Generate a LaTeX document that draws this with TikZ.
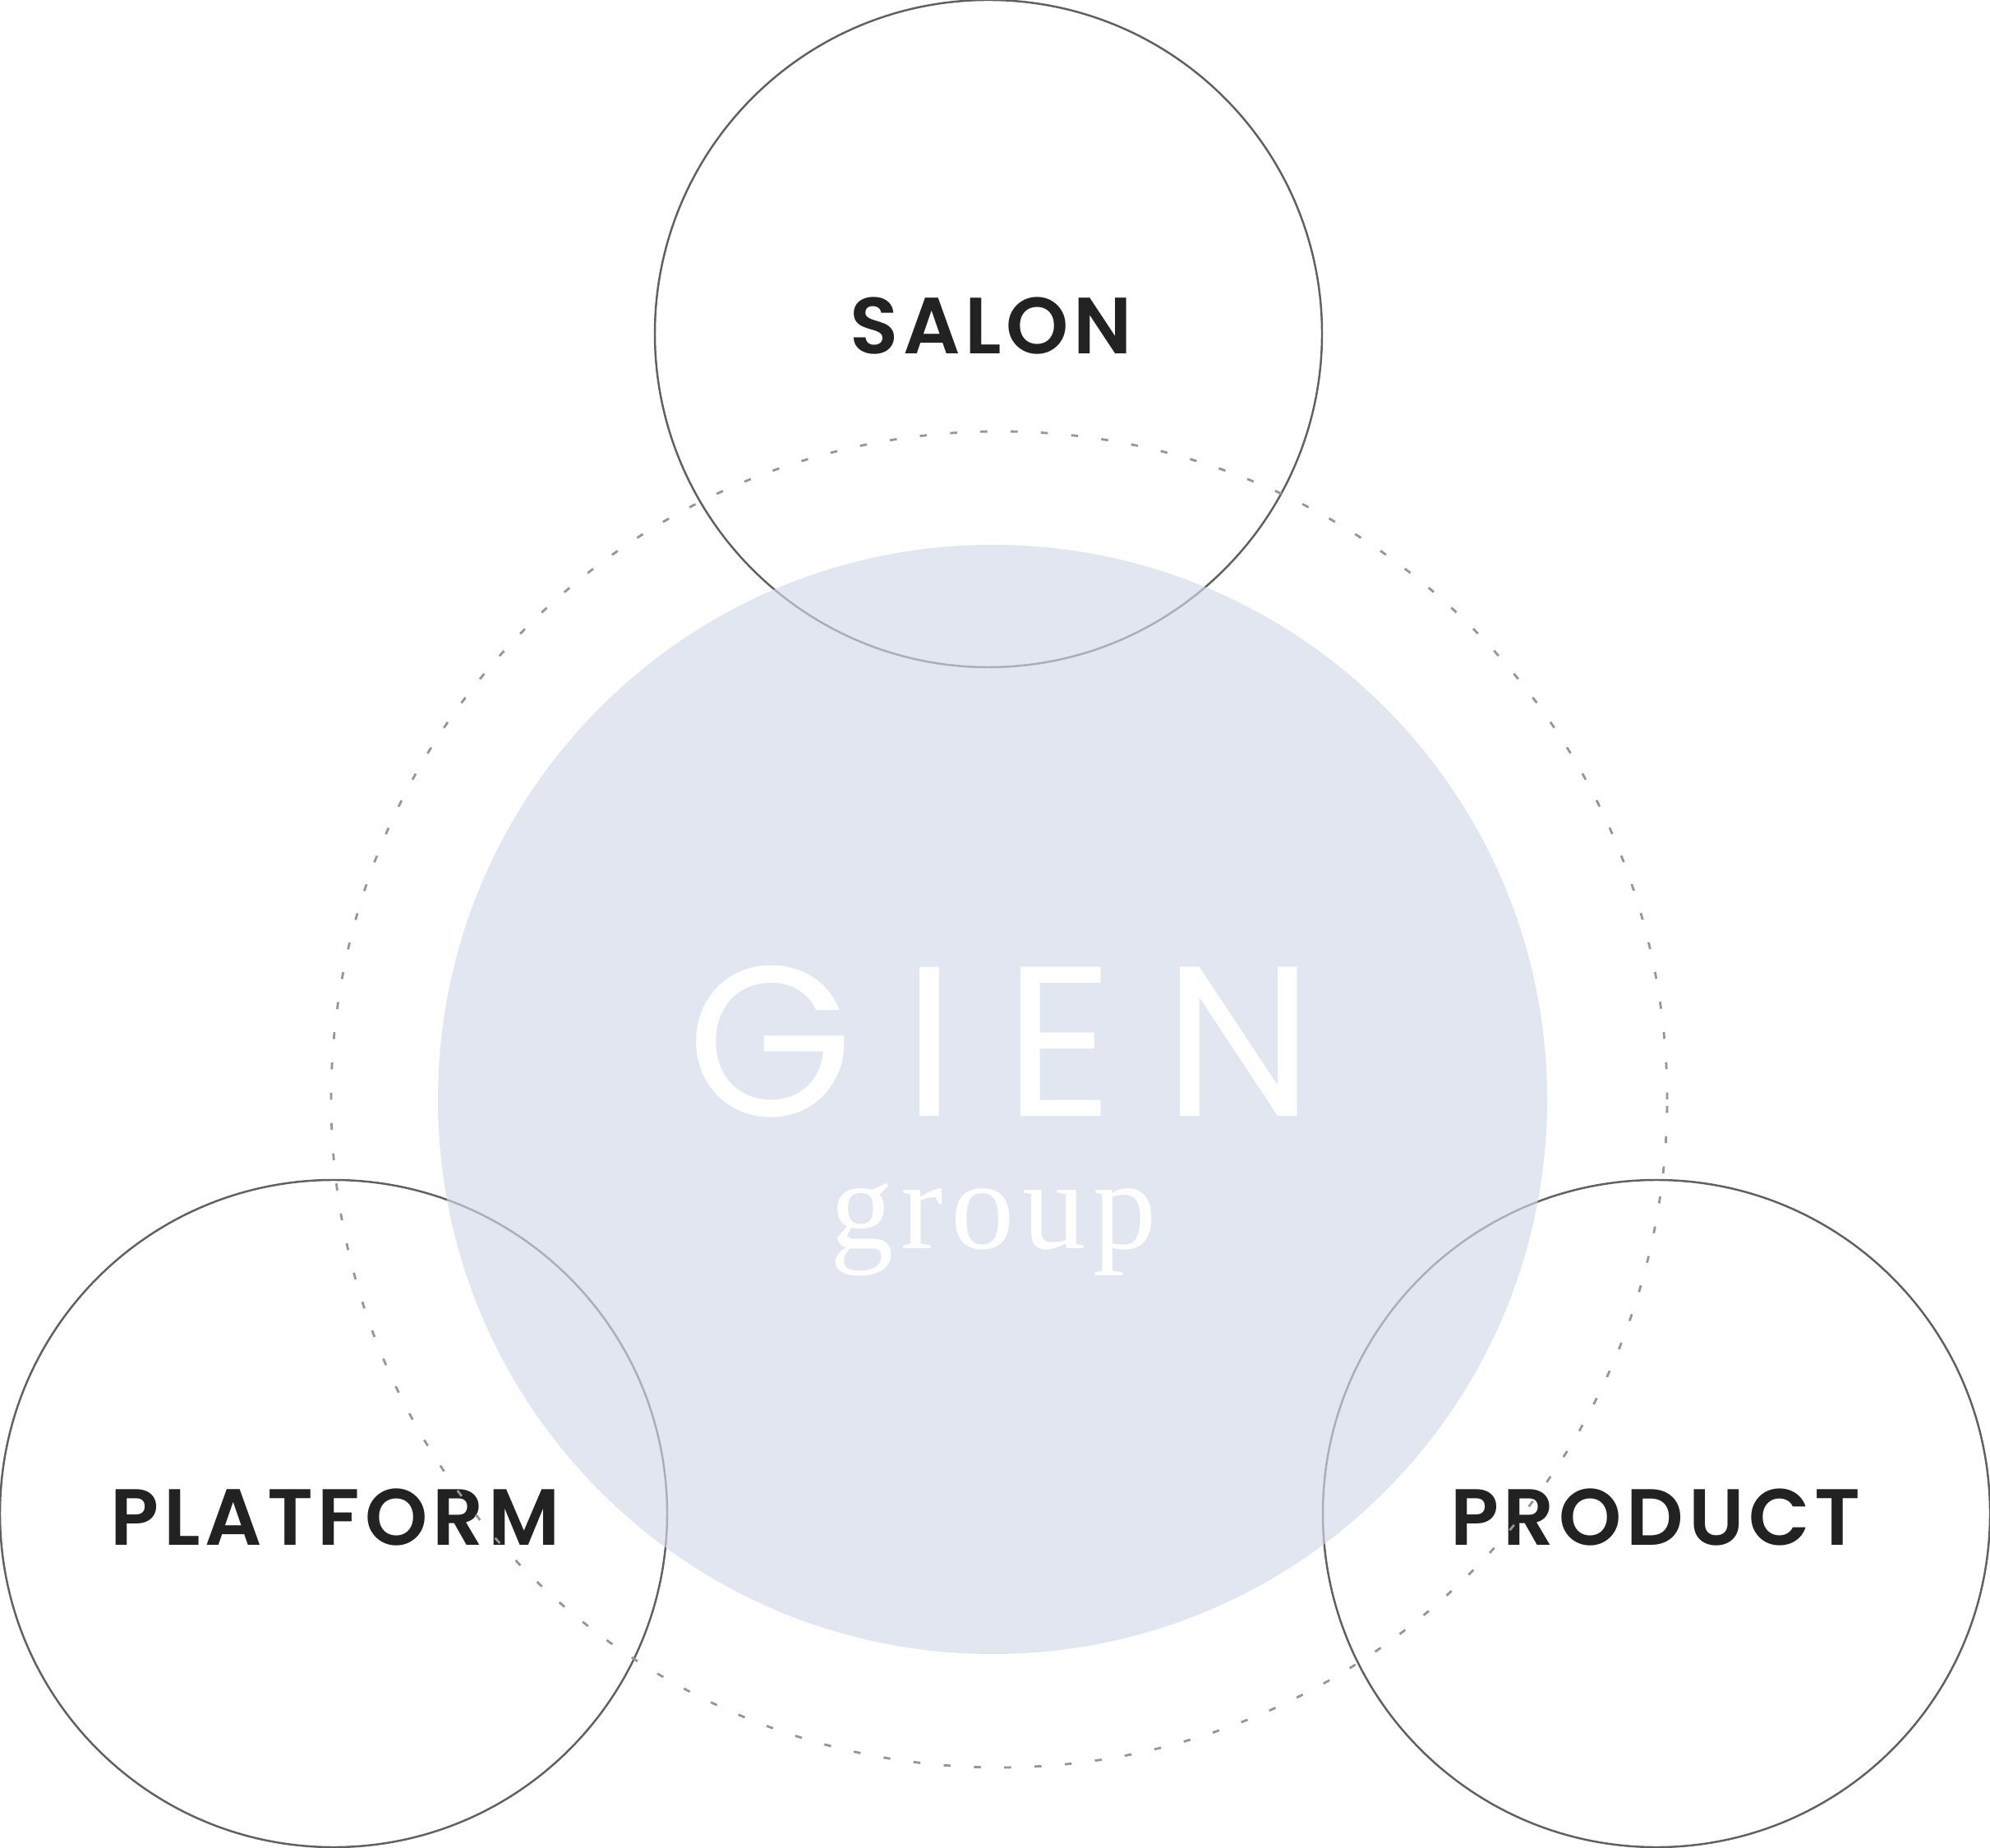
\documentclass[tikz,border=0pt]{standalone}
\usepackage{fontspec}
\usepackage{tikz}
\newfontfamily\areafont{Poppins SemiBold}[LetterSpace=6]
\newfontfamily\logofont{Poppins}[LetterSpace=23]
\newfontfamily\groupfont{Liberation Serif}[LetterSpace=6]
\definecolor{ringgray}{RGB}{96,96,96}
\definecolor{corefill}{RGB}{209,217,234}
\definecolor{dashgray}{RGB}{150,150,150}
\definecolor{areatext}{RGB}{34,34,34}

\begin{document}
\begin{tikzpicture}[ring/.style={shape=circle,draw=ringgray,line width=0.7pt,minimum size=8.12cm,inner sep=0pt},
	core/.style={shape=circle,fill=corefill,fill opacity=0.65,minimum size=13.5cm,inner sep=0pt},
	orbit/.style={shape=circle,draw=dashgray,line width=0.8pt,dash pattern=on 2.4pt off 8.1pt,minimum size=16.26cm,inner sep=0pt},
	areaname/.style={anchor=base,inner sep=0pt,text=areatext,font=\areafont\fontsize{27.6}{30}\selectfont},]
		\useasboundingbox (0,0) rectangle (24.22,22.48);
		% create the rings
		\node (salonring) [ring] at (12.03,18.42) {};
		\node (platformring) [ring] at (4.06,4.06) {};
		\node (productring) [ring] at (20.16,4.06) {};
		
		\node (core) [core] at (12.08,9.10) {};
		
		% names of the areas
		\node (salon) [areaname] at (12.06,18.17) {SALON};
		\node (platform) [areaname] at (4.08,3.68) {PLATFORM};
		\node (product) [areaname] at (20.15,3.68) {PRODUCT};
		
		\node (gien) [anchor=base,inner sep=0pt,text depth=0pt,text=white,font=\logofont\fontsize{74}{80}\selectfont] at (12.18,8.89) {GIEN};
		\node (group) [anchor=base,inner sep=0pt,text height=0.75cm,text=white,font=\groupfont\fontsize{44}{48}\selectfont] at (12.09,7.28) {group};
		
		% the dotted circle goes over the names
		\node (orbit) [orbit] at (12.16,9.10) {};
		
	\end{tikzpicture}
\end{document}
